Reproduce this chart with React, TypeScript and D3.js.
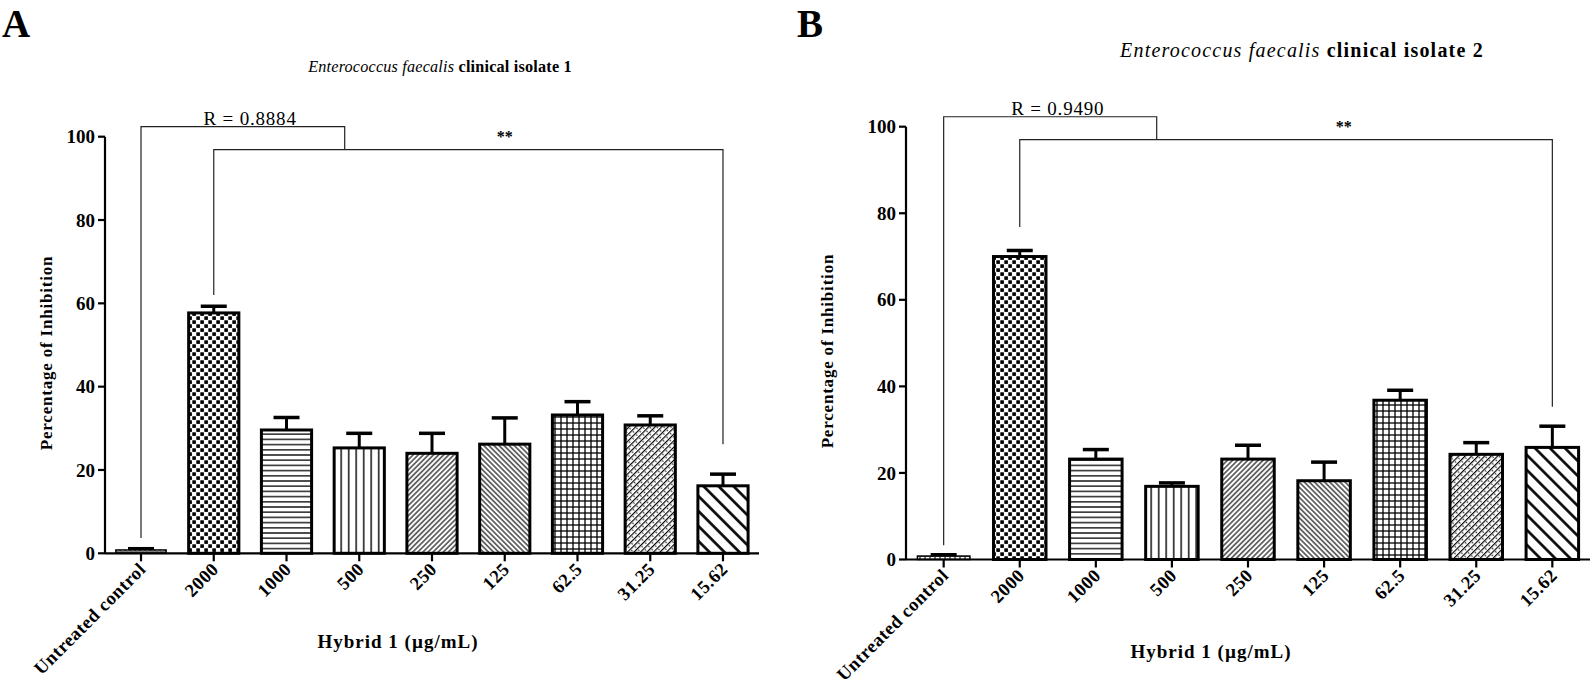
import * as d3 from "d3";

// Bars share the same categories on both panels
const categories = ["Untreated control", "2000", "1000", "500", "250", "125", "62.5", "31.25", "15.62"];
const yTicks = [0, 20, 40, 60, 80, 100];

// Panel A: E. faecalis clinical isolate 1
const meanA = [0.8, 57.7, 29.6, 25.3, 24.0, 26.2, 33.2, 30.8, 16.2];
const errA = [0.3, 1.6, 3.0, 3.5, 4.8, 6.3, 3.2, 2.2, 2.8];

// Panel B: E. faecalis clinical isolate 2
const meanB = [0.8, 70.0, 23.2, 16.9, 23.2, 18.2, 36.8, 24.3, 25.9];
const errB = [0.3, 1.4, 2.2, 0.8, 3.2, 4.3, 2.3, 2.7, 4.9];

// fill pattern per bar, same order as categories
const fills = ["brick", "check", "hline", "vline", "diagA", "diagB", "grid", "diagDot", "diagC"];

// bracket annotations, in value units / band index
// [upper line, lower line, join index, control drop end, first drop end, last drop end, stars index]
const bracketA = [102.4, 96.9, 2.8, 3.7, 62.0, 26.2, 5.0];
const bracketB = [102.3, 97.0, 2.8, 3.3, 76.8, 35.3, 5.26];

const FONT = "'Liberation Serif', 'Times New Roman', serif";

interface PanelProps {
  letter: string;
  letterX: number;
  isolate: string;
  r: string;
  mean: number[];
  err: number[];
  bracket: number[];
  left: number;
  right: number;
  top: number;
  bottom: number;
  titleX: number;
  titleY: number;
  titleSize: number;
  titleSpacing: number;
  yTitleX: number;
  xTitleX: number;
  xTitleY: number;
}

function Panel(p: PanelProps) {
  const x = d3
    .scaleBand<string>()
    .domain(categories)
    .range([p.left, p.right])
    .paddingInner(0.31)
    .paddingOuter(0.15);
  const y = d3.scaleLinear().domain([0, 100]).range([p.bottom, p.top]);
  const bw = x.bandwidth();
  const at = (i: number) => (x(categories[0]) as number) + bw / 2 + i * x.step();

  const [upper, lower, join, ctrlEnd, firstEnd, lastEnd, starAt] = p.bracket;
  const last = categories.length - 1;
  const bl = { stroke: "#222", strokeWidth: 1.2, fill: "none" };

  return (
    <g fontFamily={FONT}>
      <text x={p.letterX} y={37} fontSize={39} fontWeight="bold">
        {p.letter}
      </text>
      <text
        x={p.titleX}
        y={p.titleY}
        fontSize={p.titleSize}
        letterSpacing={p.titleSpacing}
        textAnchor="middle"
      >
        <tspan fontStyle="italic">Enterococcus faecalis</tspan>
        <tspan fontWeight="bold"> clinical isolate {p.isolate}</tspan>
      </text>

      {/* y axis */}
      <line x1={p.left} x2={p.left} y1={y(0)} y2={y(100)} stroke="#000" strokeWidth={2.2} />
      {yTicks.map((t) => (
        <g key={t}>
          <line x1={p.left - 7} x2={p.left} y1={y(t)} y2={y(t)} stroke="#000" strokeWidth={2.2} />
          <text
            x={p.left - 10}
            y={y(t)}
            dy="0.35em"
            textAnchor="end"
            fontSize={19}
            fontWeight="bold"
          >
            {t}
          </text>
        </g>
      ))}
      <text
        transform={`translate(${p.yTitleX},${(y(0) + y(100)) / 2 + 8}) rotate(-90)`}
        textAnchor="middle"
        fontSize={17}
        fontWeight="bold"
        letterSpacing={0.8}
      >
        Percentage of Inhibition
      </text>

      {/* bars */}
      {categories.map((c, i) => {
        const cx = at(i);
        const topV = p.mean[i] + p.err[i];
        return (
          <g key={c}>
            <line x1={cx} x2={cx} y1={y(p.mean[i])} y2={y(topV)} stroke="#000" strokeWidth={3} />
            <line
              x1={cx - 13}
              x2={cx + 13}
              y1={y(topV)}
              y2={y(topV)}
              stroke="#000"
              strokeWidth={3.5}
            />
            <rect
              x={x(c)}
              y={y(p.mean[i])}
              width={bw}
              height={y(0) - y(p.mean[i])}
              fill={`url(#${fills[i]})`}
              stroke="#000"
              strokeWidth={i === 0 ? 1.5 : 3}
            />
          </g>
        );
      })}

      {/* x axis */}
      <line x1={p.left} x2={p.right} y1={y(0)} y2={y(0)} stroke="#000" strokeWidth={2.2} />
      {categories.map((c, i) => (
        <g key={c}>
          <line x1={at(i)} x2={at(i)} y1={y(0)} y2={y(0) + 8} stroke="#000" strokeWidth={2.2} />
          <text
            transform={`translate(${at(i) + 6},${y(0) + 17}) rotate(-45)`}
            textAnchor="end"
            fontSize={18.5}
            fontWeight="bold"
            letterSpacing={0.5}
          >
            {c}
          </text>
        </g>
      ))}
      <text
        x={p.xTitleX}
        y={p.xTitleY}
        textAnchor="middle"
        fontSize={19}
        fontWeight="bold"
        letterSpacing={1}
      >
        Hybrid 1 (µg/mL)
      </text>

      {/* significance brackets */}
      <polyline
        {...bl}
        points={`${at(0)},${y(ctrlEnd)} ${at(0)},${y(upper)} ${at(join)},${y(upper)} ${at(join)},${y(lower)}`}
      />
      <polyline
        {...bl}
        points={`${at(1)},${y(firstEnd)} ${at(1)},${y(lower)} ${at(last)},${y(lower)} ${at(last)},${y(lastEnd)}`}
      />
      <text x={at(1.5)} y={y(upper) - 2} textAnchor="middle" fontSize={19} letterSpacing={0.8}>
        {p.r}
      </text>
      <text x={at(starAt)} y={y(lower) - 8} textAnchor="middle" fontSize={16} fontWeight="bold">
        **
      </text>
    </g>
  );
}

function Patterns() {
  const k = "#000";
  return (
    <defs>
      <pattern id="brick" patternUnits="userSpaceOnUse" width={5} height={4}>
        <rect width={5} height={4} fill="#fff" />
        <rect x={0.5} y={0.5} width={4} height={3} fill="none" stroke="#555" strokeWidth={0.8} />
      </pattern>
      <pattern id="check" patternUnits="userSpaceOnUse" width={8} height={8}>
        <rect width={8} height={8} fill="#fff" />
        <rect x={0.3} y={0.3} width={3.6} height={3.6} fill={k} />
        <rect x={4.3} y={4.3} width={3.6} height={3.6} fill={k} />
      </pattern>
      <pattern id="hline" patternUnits="userSpaceOnUse" width={10} height={5.2}>
        <rect width={10} height={5.2} fill="#fff" />
        <line x1={0} x2={10} y1={2.6} y2={2.6} stroke={k} strokeWidth={1.3} />
      </pattern>
      <pattern id="vline" patternUnits="userSpaceOnUse" width={7.5} height={10}>
        <rect width={7.5} height={10} fill="#fff" />
        <line x1={3.7} x2={3.7} y1={0} y2={10} stroke={k} strokeWidth={1.4} />
      </pattern>
      <pattern id="diagA" patternUnits="userSpaceOnUse" width={3.6} height={10} patternTransform="rotate(45)">
        <rect width={3.6} height={10} fill="#fff" />
        <line x1={1.8} x2={1.8} y1={0} y2={10} stroke={k} strokeWidth={1.1} />
      </pattern>
      <pattern id="diagB" patternUnits="userSpaceOnUse" width={3.6} height={10} patternTransform="rotate(-45)">
        <rect width={3.6} height={10} fill="#fff" />
        <line x1={1.8} x2={1.8} y1={0} y2={10} stroke={k} strokeWidth={1.1} />
      </pattern>
      <pattern id="grid" patternUnits="userSpaceOnUse" width={6} height={6}>
        <rect width={6} height={6} fill="#fff" />
        <line x1={3} x2={3} y1={0} y2={6} stroke={k} strokeWidth={1.3} />
        <line x1={0} x2={6} y1={3} y2={3} stroke={k} strokeWidth={1.3} />
      </pattern>
      <pattern id="diagDot" patternUnits="userSpaceOnUse" width={4.6} height={10} patternTransform="rotate(45)">
        <rect width={4.6} height={10} fill="#fff" />
        <line x1={1.5} x2={1.5} y1={0} y2={10} stroke={k} strokeWidth={1.2} />
        <circle cx={3.6} cy={2.5} r={0.7} fill={k} />
        <circle cx={3.6} cy={7.5} r={0.7} fill={k} />
      </pattern>
      <pattern id="diagC" patternUnits="userSpaceOnUse" width={10.6} height={10} patternTransform="rotate(-45)">
        <rect width={10.6} height={10} fill="#fff" />
        <line x1={5.3} x2={5.3} y1={0} y2={10} stroke={k} strokeWidth={2.6} />
      </pattern>
    </defs>
  );
}

export default function App() {
  return (
    <svg
      width={1594}
      height={695}
      viewBox="0 0 1594 695"
      style={{ position: "absolute", left: 0, top: 0, background: "#fff" }}
    >
      <Patterns />
      <Panel
        letter="A"
        letterX={2}
        isolate="1"
        r="R = 0.8884"
        mean={meanA}
        err={errA}
        bracket={bracketA}
        left={105}
        right={759}
        top={136.7}
        bottom={553.3}
        titleX={440}
        titleY={72}
        titleSize={16.2}
        titleSpacing={0.2}
        yTitleX={52}
        xTitleX={398}
        xTitleY={648}
      />
      <Panel
        letter="B"
        letterX={797}
        isolate="2"
        r="R = 0.9490"
        mean={meanB}
        err={errB}
        bracket={bracketB}
        left={906}
        right={1590}
        top={126.7}
        bottom={559.5}
        titleX={1302}
        titleY={57}
        titleSize={20}
        titleSpacing={1.2}
        yTitleX={833}
        xTitleX={1211}
        xTitleY={658}
      />
    </svg>
  );
}
